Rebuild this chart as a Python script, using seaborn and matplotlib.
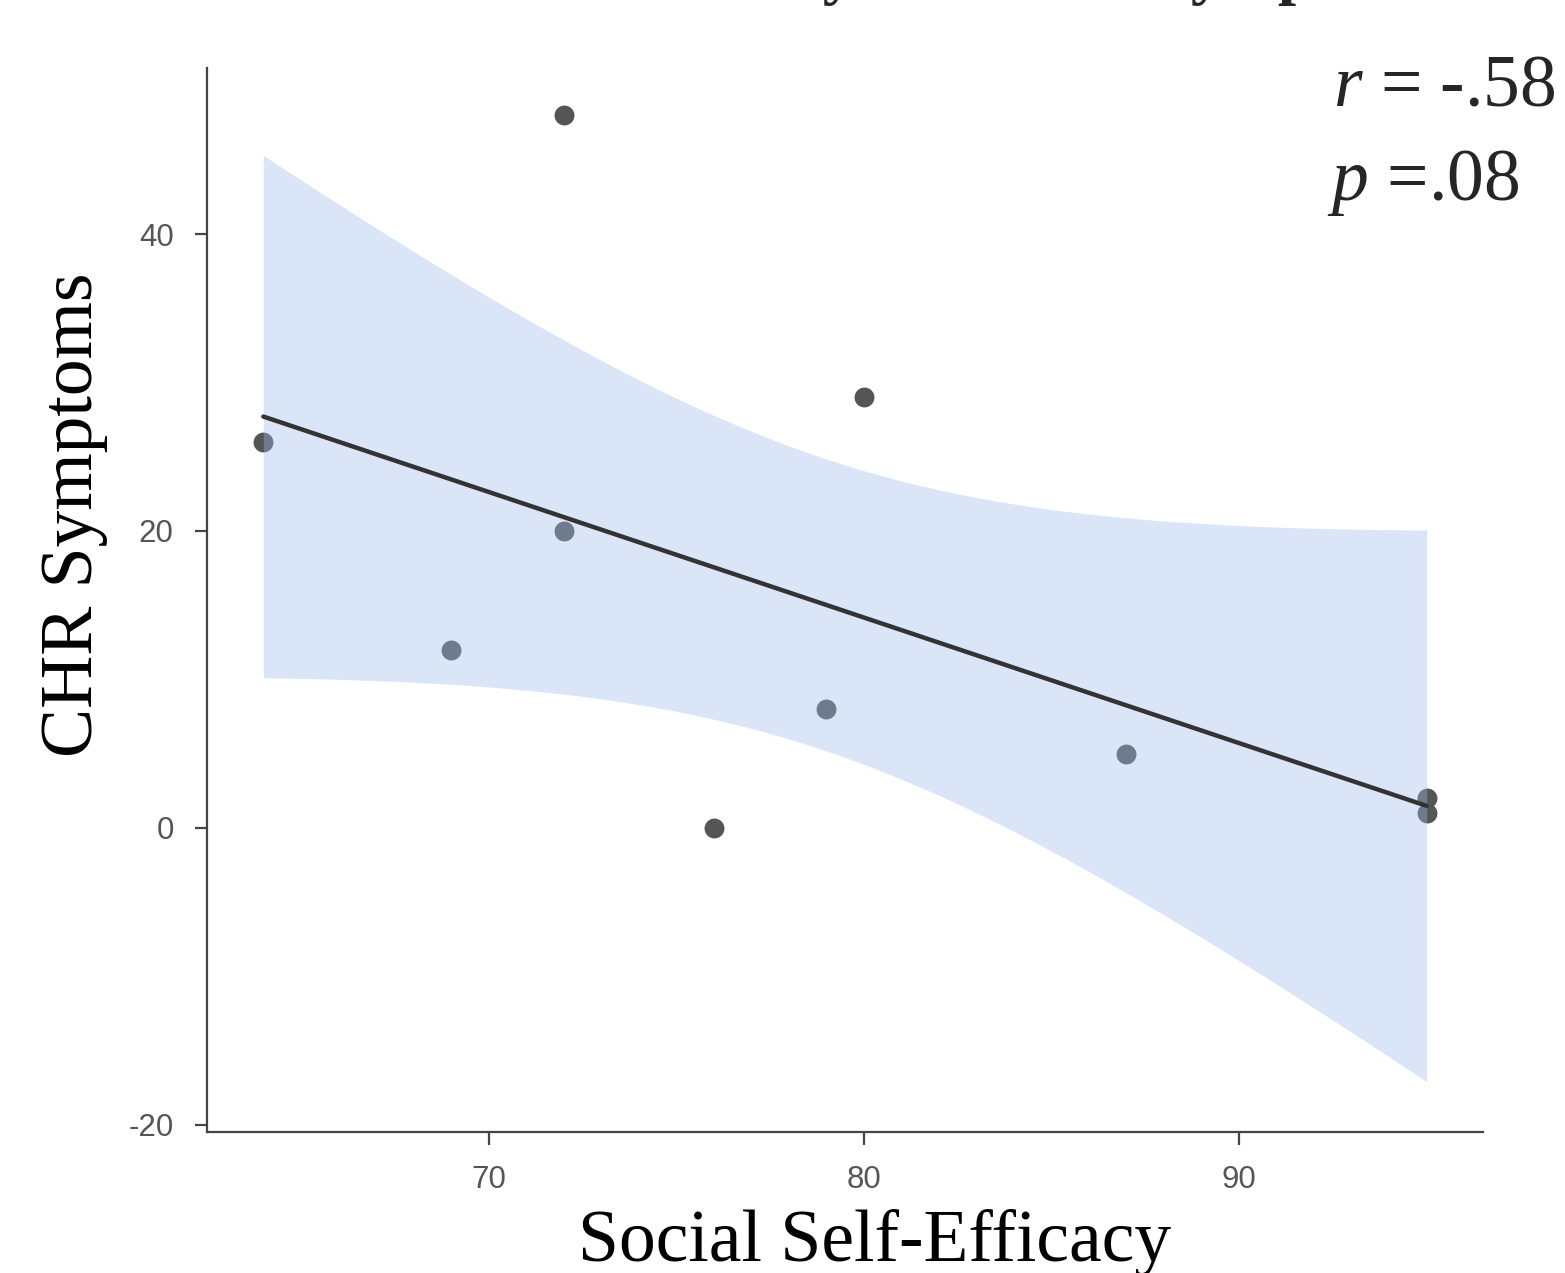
"""Scatter of CHR symptoms vs social self-efficacy with linear fit and 95% CI band."""
import numpy as np
import pandas as pd
import matplotlib
matplotlib.use("Agg")
import matplotlib.pyplot as plt
import seaborn as sns

# data
self_efficacy = [64, 72, 72, 69, 76, 80, 79, 87, 95, 95]
chr_symptoms = [26, 48, 20, 12, 0, 29, 8, 5, 2, 1]
x_ticks = [70, 80, 90]
y_ticks = [-20, 0, 20, 40]
stat_r = "-.58"
stat_p = ".08"

POINT = "#555555"
LINE = "#333333"
BAND = "#9fbaea"


def ci_band(x, y, grid, level_t=2.306):
    """Analytic 95% confidence band of the OLS fit (t for df=8)."""
    x = np.asarray(x, float)
    y = np.asarray(y, float)
    n = len(x)
    b, a = np.polyfit(x, y, 1)
    resid = y - (a + b * x)
    s = np.sqrt((resid ** 2).sum() / (n - 2))
    sxx = ((x - x.mean()) ** 2).sum()
    se = s * np.sqrt(1 / n + (grid - x.mean()) ** 2 / sxx)
    fit = a + b * grid
    return fit - level_t * se, fit + level_t * se


def main():
    sns.set_style("ticks")
    plt.rcParams.update({
        "font.family": ["Liberation Sans", "DejaVu Sans"],
        "axes.unicode_minus": False,
        "mathtext.fontset": "custom",
        "mathtext.it": "Liberation Serif:italic",
        "mathtext.rm": "Liberation Serif",
    })

    df = pd.DataFrame({"Social Self-Efficacy": self_efficacy,
                       "CHR Symptoms": chr_symptoms})

    fig = plt.figure(figsize=(15.65, 12.73), dpi=100)
    ax = fig.add_axes([0.1323, 0.1108, 0.8153, 0.8358])

    sns.regplot(data=df, x="Social Self-Efficacy", y="CHR Symptoms", ax=ax,
                ci=None, truncate=True,
                scatter_kws={"s": 205, "color": POINT, "alpha": 1,
                             "linewidths": 0, "zorder": 2},
                line_kws={"color": LINE, "lw": 3.2, "zorder": 4})

    grid = np.linspace(min(self_efficacy), max(self_efficacy), 200)
    lo, hi = ci_band(self_efficacy, chr_symptoms, grid)
    ax.fill_between(grid, lo, hi, color=BAND, alpha=0.375, lw=0, zorder=3)

    ax.set_xlim(62.5, 96.5)
    ax.set_ylim(-20.5, 51.2)
    ax.set_xticks(x_ticks)
    ax.set_yticks(y_ticks)
    ax.tick_params(axis="both", labelsize=22.5, colors="#444444", length=9,
                   width=1.6, pad=15, labelcolor="#555555")
    for side in ("left", "bottom"):
        ax.spines[side].set_linewidth(1.6)
        ax.spines[side].set_color("#444444")
    sns.despine(ax=ax)

    serif = ["Liberation Serif", "DejaVu Serif"]
    ax.set_xlabel("Social Self-Efficacy", family=serif, fontsize=53, color="black")
    ax.set_ylabel("CHR Symptoms", family=serif, fontsize=53, color="black")
    ax.xaxis.set_label_coords(0.5235, -0.072)
    ax.yaxis.set_label_coords(-0.078, 0.58)

    fig.text(0.852, 0.917, f"$r$ = {stat_r}", family=serif, fontsize=53,
             ha="left", va="baseline")
    fig.text(0.848, 0.843, f"$p$ ={stat_p}", family=serif, fontsize=53,
             ha="left", va="baseline")

    # title, mostly cut off by the top edge as in the reference
    fig.text(0.564, 1.006, "Social Self-Efficacy and CHR Symptoms", family=serif,
             fontsize=47, fontweight="bold", ha="center", va="baseline")

    fig.savefig("out.png", dpi=100)
    plt.close(fig)


if __name__ == "__main__":
    main()
